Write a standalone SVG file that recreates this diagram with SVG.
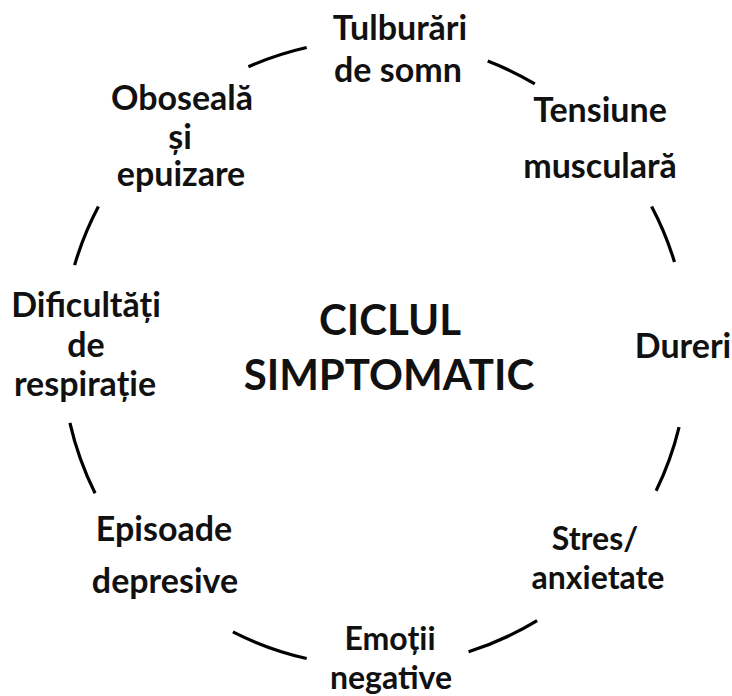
<svg xmlns="http://www.w3.org/2000/svg" width="732" height="696" viewBox="0 0 732 696">
<style>
.lbl{font-family:Lato,"Open Sans","Liberation Sans",sans-serif;font-weight:bold;font-size:34px;fill:#111;text-anchor:middle}
.sm{font-size:32px}
.ctr{font-family:Lato,"Open Sans","Liberation Sans",sans-serif;font-weight:bold;font-size:42px;fill:#111;text-anchor:middle}
.arc{fill:none;stroke:#000;stroke-width:3.2;stroke-linecap:butt}
</style>
<rect width="732" height="696" fill="#fff"/>
<g id="connectors">
<path class="arc" d="M248.4,66.8 A313,313 0 0 1 306.7,47.5"/>
<path class="arc" d="M487.7,61.0 A313,313 0 0 1 534.8,83.9"/>
<path class="arc" d="M651.6,206.5 A313,313 0 0 1 674.5,262.0"/>
<path class="arc" d="M679.1,427.1 A313,313 0 0 1 656.1,490.7"/>
<path class="arc" d="M537.1,620.7 A313,313 0 0 1 468.6,651.7"/>
<path class="arc" d="M306.7,658.5 A313,313 0 0 1 232.9,631.9"/>
<path class="arc" d="M95.1,493.2 A313,313 0 0 1 69.9,422.9"/>
<path class="arc" d="M74.6,265.1 A313,313 0 0 1 98.4,206.5"/>
</g>
<g id="center">
<text class="ctr" x="390" y="335">CICLUL</text>
<text class="ctr" x="389" y="390">SIMPTOMATIC</text>
</g>
<g id="tulburari">
<text class="lbl" x="400" y="40">Tulburări</text>
<text class="lbl" x="398" y="82">de somn</text>
</g>
<g id="tensiune">
<text class="lbl" x="600" y="122">Tensiune</text>
<text class="lbl" x="600" y="178">musculară</text>
</g>
<g id="dureri">
<text class="lbl" x="683" y="358">Dureri</text>
</g>
<g id="stres">
<text class="lbl sm" x="595" y="550">Stres/</text>
<text class="lbl sm" x="598" y="589">anxietate</text>
</g>
<g id="emotii">
<text class="lbl sm" x="390" y="650">Emoții</text>
<text class="lbl sm" x="391" y="689">negative</text>
</g>
<g id="episoade">
<text class="lbl" x="164" y="541">Episoade</text>
<text class="lbl" x="165" y="593">depresive</text>
</g>
<g id="dificultati">
<text class="lbl" x="86" y="317">Dificultăți</text>
<text class="lbl" x="86" y="357">de</text>
<text class="lbl" x="85" y="396">respirație</text>
</g>
<g id="oboseala">
<text class="lbl" x="182" y="110">Oboseală</text>
<text class="lbl" x="180" y="149">și</text>
<text class="lbl" x="181" y="186">epuizare</text>
</g>
</svg>
